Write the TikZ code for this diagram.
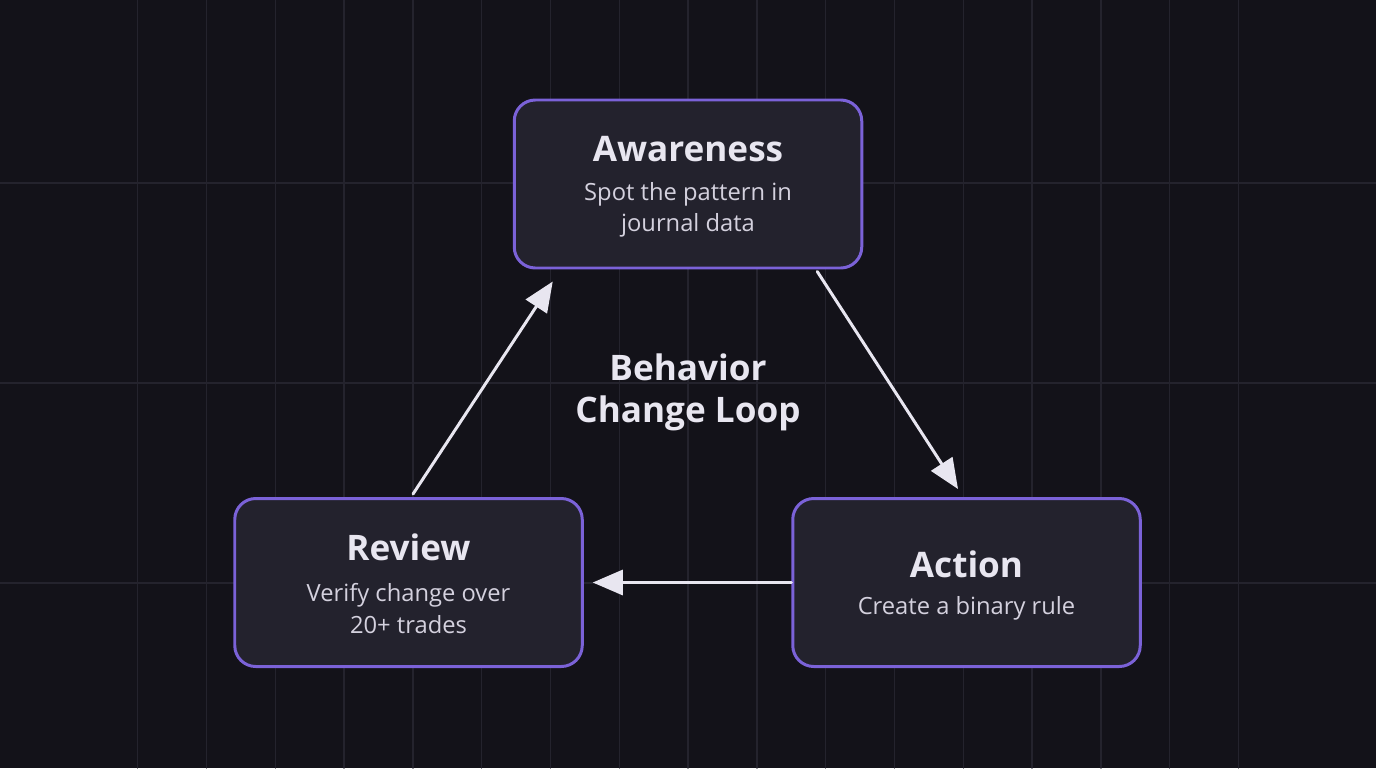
\documentclass[tikz,border=0pt]{standalone}
\usepackage{fontspec}
\setmainfont{Open Sans}
\usetikzlibrary{arrows.meta,positioning}
\definecolor{bgc}{HTML}{131219}
\definecolor{gridc}{HTML}{24232D}
\definecolor{boxc}{HTML}{23222D}
\definecolor{edgec}{HTML}{7B62D8}
\definecolor{txtc}{HTML}{E8E6F0}
\definecolor{subc}{HTML}{D4D1DE}

\begin{document}
\begin{tikzpicture}[line cap=round, line join=round]
  % ---- Styles ----
  \tikzset{
    stage/.style={draw=edgec, fill=boxc, line width=1.7pt, rounded corners=0.42cm,
                  minimum width=6.95cm, minimum height=3.36cm, align=center,
                  text=txtc},
    loop/.style={-{Triangle[length=0.6cm,width=0.5cm]}, line width=1.7pt, draw=txtc},
    ttl/.style={font=\fontsize{20}{24}\selectfont\bfseries},
    sub/.style={font=\fontsize{13.5}{18}\selectfont, text=subc},
  }

  % ---- Background and grid (1px = 0.02cm) ----
  \fill[bgc] (0,0) rectangle (27.52,-15.36);
  \useasboundingbox (0,0) rectangle (27.52,-15.36);
  \foreach \k in {2,...,18} {
    \draw[gridc, line width=0.8pt] ({\k*1.376},0) -- ({\k*1.376},-15.36);
  }
  \foreach \y in {-3.66,-7.66,-11.66} {
    \draw[gridc, line width=0.8pt] (0,\y) -- (27.52,\y);
  }

  % ---- Stages ----
  \node[stage] (aw) at (13.76,-3.68) {};
  \node[stage] (rv) at (8.17,-11.65) {};
  \node[stage] (ac) at (19.33,-11.65) {};

  \node[ttl, text=txtc] (awT) at (13.76,-2.98) {Awareness};
  \node[sub, align=center] (awS) at (13.76,-4.2) {Spot the pattern in\\journal data};
  \node[ttl, text=txtc] (rvT) at (8.17,-10.95) {Review};
  \node[sub, align=center] (rvS) at (8.17,-12.17) {Verify change over\\20+ trades};
  \node[ttl, text=txtc] (acT) at (19.33,-11.28) {Action};
  \node[sub] (acS) at (19.33,-12.17) {Create a binary rule};

  % Center label
  \node[ttl, text=txtc, align=center] (lbl) at (13.76,-7.84) {Behavior\\Change Loop};

  % ---- Loop arrows ----
  \draw[loop] ([xshift=-0.92cm,yshift=-0.04cm]aw.south east) -- ([xshift=-0.17cm,yshift=0.16cm]ac.north);
  \draw[loop] (ac.west) -- ([xshift=0.18cm]rv.east);
  \draw[loop] ([xshift=0.09cm,yshift=0.06cm]rv.north) -- ([xshift=0.8cm,yshift=-0.24cm]aw.south west);

\end{tikzpicture}
\end{document}
